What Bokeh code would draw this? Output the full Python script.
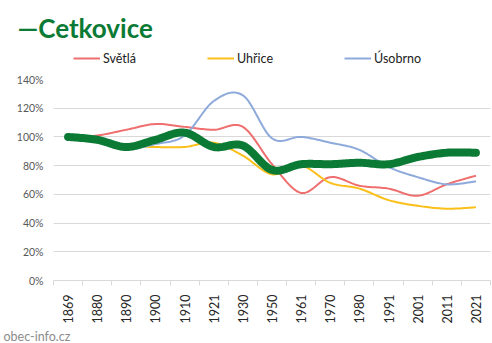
import numpy as np
from bokeh.plotting import figure
from bokeh.layouts import column
from bokeh.models import (Range1d, FixedTicker, NumeralTickFormatter, Legend, LegendItem, Spacer)
from bokeh.embed import file_html
from bokeh.resources import INLINE
from math import pi

years = ["1869", "1880", "1890", "1900", "1910", "1921", "1930", "1950",
         "1961", "1970", "1980", "1991", "2001", "2011", "2021"]
cetkovice = [100, 98, 93, 98, 103, 93, 94, 77, 81, 81, 82, 81, 86, 89, 89]
svetla = [100, 101, 105, 109, 107, 105, 107, 81, 61, 72, 66, 64, 59, 67, 73]
uhrice = [100, 99, 94, 93, 93, 96, 87, 74, 80, 68, 64, 56, 52, 50, 51]
usobrno = [100, 100, 92, 95, 101, 125, 129, 99, 100, 96, 91, 79, 72, 67, 69]
y_ticks = [0, 0.2, 0.4, 0.6, 0.8, 1.0, 1.2, 1.4]

FONT = "Lato"
GREEN = "#0a7a34"
LEFT = 53


def smooth(vals, n=16):
    xs = np.arange(len(vals), dtype=float)
    ys = np.array(vals, dtype=float) / 100.0
    P = np.stack([xs, ys], axis=1)
    out = []
    m = len(P)
    for i in range(m - 1):
        p0 = P[i - 1] if i > 0 else P[i]
        p1, p2 = P[i], P[i + 1]
        p3 = P[i + 2] if i + 2 < m else P[i + 1]
        c1 = p1 + (p2 - p0) / 6.0
        c2 = p2 - (p3 - p1) / 6.0
        for t in np.linspace(0, 1, n, endpoint=(i == m - 2)):
            b = ((1 - t) ** 3) * p1 + 3 * ((1 - t) ** 2) * t * c1 + 3 * (1 - t) * t * t * c2 + t ** 3 * p2
            out.append(b)
    out = np.array(out)
    return out[:, 0], out[:, 1]


def blank(h, top=0):
    f = figure(width=492, height=h, output_backend="svg", toolbar_location=None,
               x_range=Range1d(0, 10), y_range=Range1d(0, 10),
               x_axis_location=None, y_axis_location=None,
               min_border=0, min_border_left=LEFT, min_border_right=2,
               min_border_top=top, min_border_bottom=0)
    f.grid.grid_line_color = None
    f.outline_line_color = None
    f.background_fill_color = "white"
    f.border_fill_color = "white"
    return f


series = [("Světlá", svetla, "#ef6f6f"),
          ("Uhřice", uhrice, "#fbbf1a"),
          ("Úsobrno", usobrno, "#8eaadb")]

# header: title + legend
TOP = 9
HH = 70
head = blank(HH - TOP)
head.title.text = "—Cetkovice"
head.title.align = "left"
head.title.offset = 17 - LEFT
head.title.text_font = FONT
head.title.text_font_style = "bold"
head.title.text_font_size = "26px"
head.title.text_color = GREEN
head.title.standoff = 0
items = []
for name, vals, col in series:
    r = head.line([-10, -5], [-10, -5], line_color=col, line_width=2)
    items.append(LegendItem(label=name, renderers=[r]))
legend = Legend(items=items, orientation="horizontal", location=(73 - LEFT, 4),
                padding=0, margin=0, spacing=71, glyph_width=27, glyph_height=16,
                label_standoff=3, border_line_color=None, background_fill_alpha=0,
                label_text_font=FONT, label_text_font_size="12.5px", label_text_color="#222222")
head.add_layout(legend, "center")

# main chart
FH = 17
MH = 343 - HH - FH
p = figure(width=492, height=MH, output_backend="svg", toolbar_location=None,
           x_range=Range1d(-0.5, 14.5), y_range=Range1d(0, 1.4),
           min_border_left=LEFT, min_border_right=2, min_border_top=79 - HH,
           min_border_bottom=HH + MH - 281)
p.outline_line_color = None
p.background_fill_color = "white"
p.border_fill_color = "white"

p.xgrid.grid_line_color = None
p.ygrid.grid_line_color = "#d9d9d9"
p.ygrid.ticker = FixedTicker(ticks=y_ticks)

yax = p.yaxis[0]
yax.ticker = FixedTicker(ticks=y_ticks)
yax.formatter = NumeralTickFormatter(format="0%")
yax.axis_line_color = None
yax.major_tick_line_color = None
yax.minor_tick_line_color = None
yax.major_tick_out = 0
yax.major_label_standoff = 10
yax.major_label_text_font = FONT
yax.major_label_text_font_size = "10.5px"
yax.major_label_text_color = "#595959"

xax = p.xaxis[0]
xax.ticker = FixedTicker(ticks=list(range(len(years))),
                         minor_ticks=[i - 0.5 for i in range(len(years) + 1)])
xax.major_label_overrides = {i: y for i, y in enumerate(years)}
xax.axis_line_color = "#d9d9d9"
xax.major_tick_line_color = None
xax.major_tick_out = 0
xax.minor_tick_line_color = "#d9d9d9"
xax.minor_tick_out = 5
xax.minor_tick_in = 0
xax.major_label_orientation = pi / 2
xax.major_label_standoff = 9
xax.major_label_text_font = FONT
xax.major_label_text_font_size = "12.5px"
xax.major_label_text_color = "#262626"

for name, vals, col in series:
    sx, sy = smooth(vals)
    p.line(sx, sy, line_color=col, line_width=2, line_join="round")

gx, gy = smooth(cetkovice)
p.line(gx, gy, line_color=GREEN, line_width=8, line_join="round", line_cap="round")

# footer: watermark
foot = blank(FH, top=0)
foot.title.text = "obec-info.cz"
foot.title.align = "left"
foot.title.offset = 3 - LEFT
foot.title.text_font = FONT
foot.title.text_font_style = "normal"
foot.title.text_font_size = "12.5px"
foot.title.text_color = "#8c8c8c"
foot.title.standoff = 0

layout = column(Spacer(width=492, height=TOP), head, p, foot, spacing=0)
open("out.html", "w").write(file_html(layout, INLINE))
